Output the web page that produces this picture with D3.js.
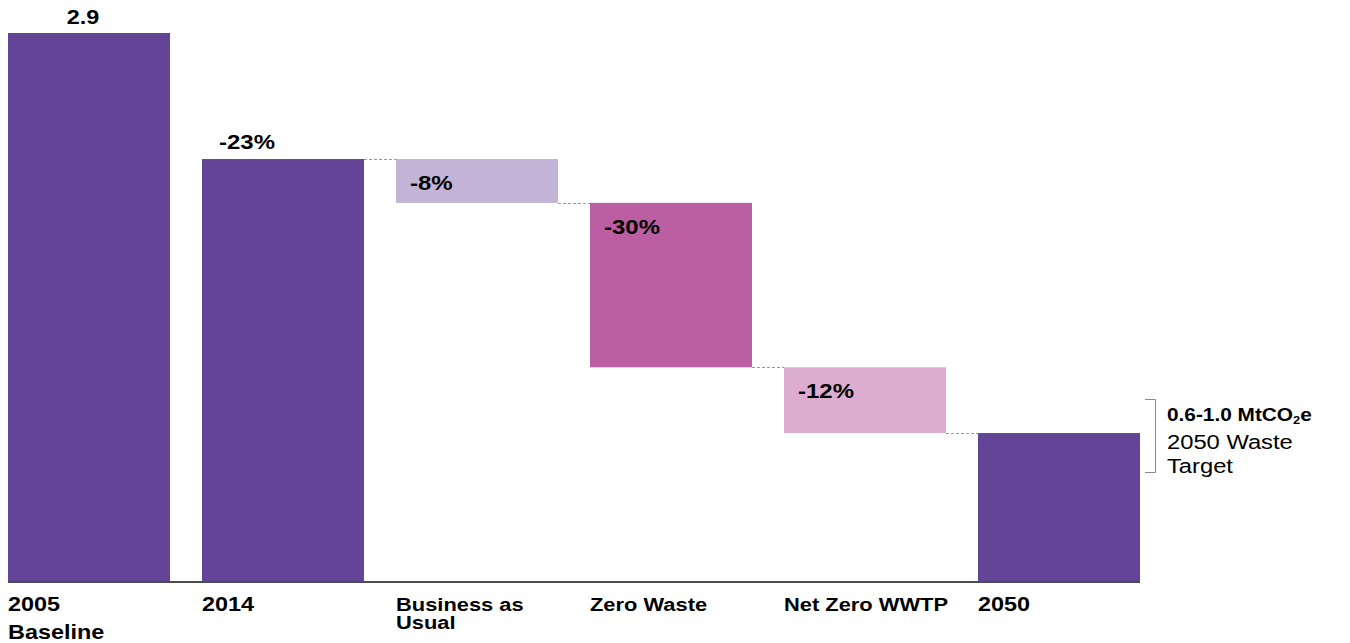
<!DOCTYPE html>
<html>
<head>
<meta charset="utf-8">
<script src="https://cdn.jsdelivr.net/npm/d3@7"></script>
<style>
  html, body { margin: 0; padding: 0; background: #fff; }
  svg { display: block; font-family: "Liberation Sans", Arial, Helvetica, sans-serif; }
</style>
</head>
<body>
<svg id="chart" width="1350" height="643"></svg>
<script>
// Waste-sector emissions pathway, MtCO2e
const categories = ["2005 Baseline", "2014", "Business as Usual", "Zero Waste", "Net Zero WWTP", "2050"];
const axisLabels = [["2005", "Baseline"], ["2014"], ["Business as", "Usual"], ["Zero Waste"], ["Net Zero WWTP"], ["2050"]];
const baseline = 2.9;                          // 2005 emissions
const changePct = [null, -23, -8, -30, -12, null]; // change vs. 2005 baseline, %
const kinds = ["total", "total", "step", "step", "step", "total"];
const fills = ["#644497", "#644497", "#c3b4d7", "#bc5ea2", "#dcadcf", "#644497"];
const targetLabel = ["0.6-1.0 MtCO", "2", "e"];
const targetNote = ["2050 Waste", "Target"];

// Build the waterfall: each step bar hangs from the previous running total
let running = baseline;
const bars = categories.map((c, i) => {
  if (i === 0) return { c, i, y0: 0, y1: baseline, label: String(baseline) };
  if (kinds[i] === "total" && changePct[i] !== null) {
    running = running + baseline * changePct[i] / 100;
    return { c, i, y0: 0, y1: running, label: changePct[i] + "%" };
  }
  if (kinds[i] === "step") {
    const top = running;
    running = running + baseline * changePct[i] / 100;
    return { c, i, y0: running, y1: top, label: changePct[i] + "%" };
  }
  return { c, i, y0: 0, y1: running, label: null };
});

const svg = d3.select("#chart");
const SX = 1.17; // horizontal stretch applied to all text

const x = d3.scaleBand().domain(categories).range([8, 1140]).paddingInner(0.165).paddingOuter(0);
const y = d3.scaleLinear().domain([0, baseline]).range([581, 33]);

// Bars
svg.append("g").selectAll("rect").data(bars).join("rect")
  .attr("x", d => x(d.c))
  .attr("width", x.bandwidth())
  .attr("y", d => y(d.y1))
  .attr("height", d => y(d.y0) - y(d.y1))
  .attr("fill", (d, i) => fills[i]);

// Dashed connectors between consecutive bars
const conn = bars.slice(1, -1).map((d, k) => {
  const next = bars[k + 2];
  const level = d.i === 1 ? d.y1 : d.y0;
  return { x1: x(d.c) + x.bandwidth(), x2: x(next.c), v: level };
});
svg.append("g").selectAll("line").data(conn).join("line")
  .attr("x1", d => d.x1).attr("x2", d => d.x2)
  .attr("y1", d => Math.round(y(d.v)) + 0.5).attr("y2", d => Math.round(y(d.v)) + 0.5)
  .attr("stroke", "#9a9a9a").attr("stroke-width", 1).attr("stroke-dasharray", "3,2");

// Baseline axis line
svg.append("line")
  .attr("x1", x.range()[0]).attr("x2", x.range()[1])
  .attr("y1", 582).attr("y2", 582)
  .attr("stroke", "#111").attr("stroke-width", 1.6);

function stretchedText(g, tx, ty, size, weight, anchor) {
  return g.append("text")
    .attr("transform", `translate(${tx},${ty}) scale(${SX},1)`)
    .attr("font-size", size).attr("font-weight", weight)
    .attr("text-anchor", anchor || "start").attr("fill", "#000");
}

// Value labels
const lbl = svg.append("g");
bars.forEach(d => {
  if (!d.label) return;
  if (d.i === 0) {
    stretchedText(lbl, x(d.c) + x.bandwidth() / 2 - 6, y(d.y1) - 9, 20, "bold", "middle").text(d.label);
  } else if (kinds[d.i] === "total") {
    stretchedText(lbl, x(d.c) + 17, y(d.y1) - 10, 20.5, "bold").text(d.label);
  } else {
    stretchedText(lbl, x(d.c) + 14, y(d.y1) + 31, 20.5, "bold").text(d.label);
  }
});

// Category labels under the axis
const xl = svg.append("g");
axisLabels.forEach((lines, i) => {
  const isYear = /^\d{4}$/.test(lines[0]);
  const size = isYear ? 20 : 18.7;
  const lh = isYear ? 28 : 18;
  const t = stretchedText(xl, x(categories[i]), 611, size, "bold");
  lines.forEach((s, j) => t.append("tspan").attr("x", 0).attr("dy", j === 0 ? 0 : lh).text(s));
});

// Target bracket and note
const bx = 1155.5, bTop = 399.5, bBot = 472.5;
svg.append("path")
  .attr("d", `M1145,${bTop}H${bx}V${bBot}H1145`)
  .attr("fill", "none").attr("stroke", "#8a8a8a").attr("stroke-width", 1);

const tl = stretchedText(svg, 1167, 421, 17.8, "bold");
tl.append("tspan").text(targetLabel[0]);
tl.append("tspan").attr("font-size", 11).attr("dy", 3).text(targetLabel[1]);
tl.append("tspan").attr("dy", -3).text(targetLabel[2]);

const tn = stretchedText(svg, 1167, 449, 20.3, "normal");
targetNote.forEach((s, j) => tn.append("tspan").attr("x", 0).attr("dy", j === 0 ? 0 : 24).text(s));
</script>
</body>
</html>
